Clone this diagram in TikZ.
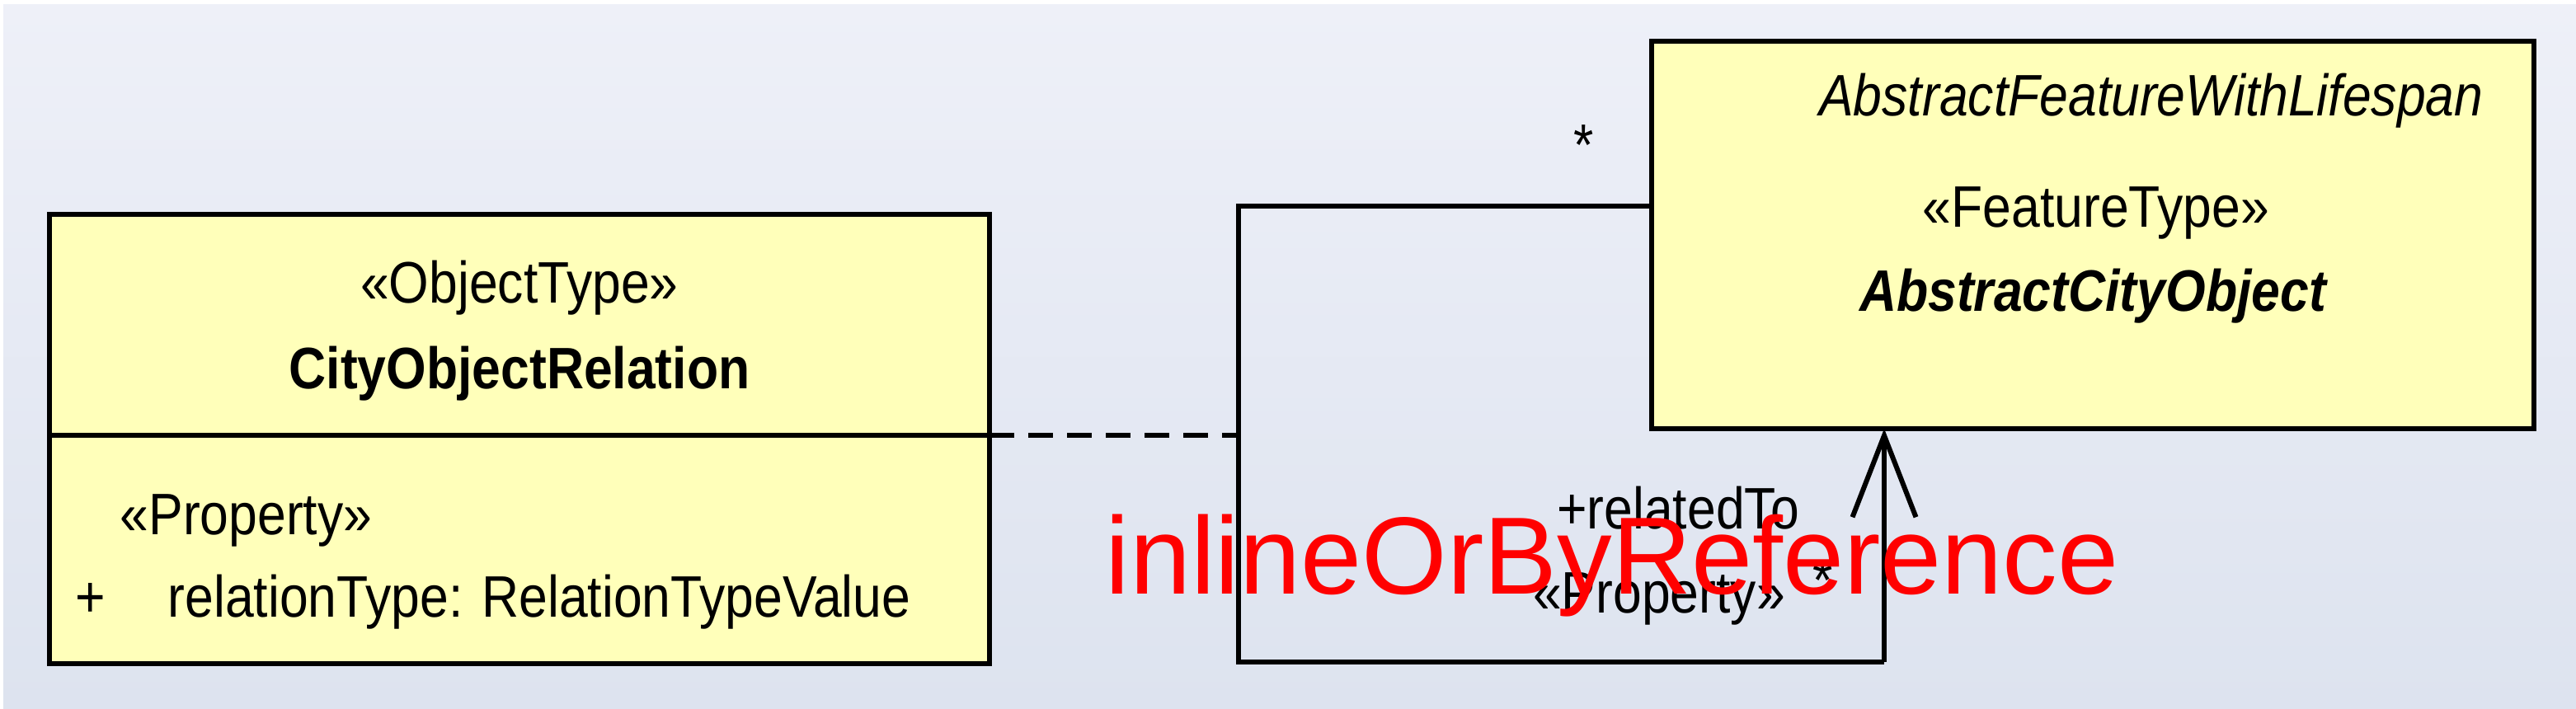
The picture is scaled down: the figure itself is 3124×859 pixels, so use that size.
\documentclass[tikz,border=0pt]{standalone}
\usepackage{fontspec}
\setmainfont{Liberation Sans}
\newfontfamily\umlfont[FakeStretch=0.88]{Liberation Sans}
\usetikzlibrary{arrows.meta}
\definecolor{bgtop}{HTML}{EEF0F8}
\definecolor{bgbot}{HTML}{DDE3EF}
\definecolor{umlyellow}{HTML}{FFFFBA}
\definecolor{redlabel}{HTML}{FF0000}
\begin{document}
\begin{tikzpicture}[x=0.1mm,y=-0.1mm,
  umlbox/.style={draw=black,fill=umlyellow,line width=0.6mm,inner sep=0pt,outer sep=0pt},
  umltext/.style={font=\umlfont\fontsize{20.2}{24}\selectfont,inner sep=0pt,text=black},
  conn/.style={draw=black,line width=0.6mm},
  redtext/.style={font=\fontsize{37.9}{42}\selectfont,text=redlabel,inner sep=0pt}]
\useasboundingbox (0,0) rectangle (3124,859);
\fill[white] (0,0) rectangle (3124,859);
\shade[top color=bgtop,bottom color=bgbot] (4,5) rectangle (3124,859);
% classes
\node[umlbox,minimum width=114mm,minimum height=54.5mm] (cor) at (630,532) {};
\node[umlbox,minimum width=107mm,minimum height=47mm] (aco) at (2538,285) {};
\draw[line width=0.6mm] (cor.west |- 0,528) coordinate (divL) -- (cor.east |- 0,528) coordinate (divR);
% texts of CityObjectRelation
\node[umltext,anchor=base] (corst) at (630,367) {«ObjectType»};
\node[umltext,anchor=base] (corname) at (630,471) {\bfseries CityObjectRelation};
\node[umltext,anchor=base west] (corpst) at (145,648) {«Property»};
\node[umltext,anchor=base west] (corplus) at (91,748) {+};
\node[umltext,anchor=base west] (corattr) at (203,748) {relationType: RelationTypeValue};
% texts of AbstractCityObject
\node[umltext,anchor=base east] (acoparent) at (3012,140) {\itshape AbstractFeatureWithLifespan};
\node[umltext,anchor=base] (acost) at (2542,275) {«FeatureType»};
\node[umltext,anchor=base] (aconame) at (2538,377) {\bfseries\itshape AbstractCityObject};
% association
\coordinate (tl) at (1502,250);
\coordinate (bl) at (1502,803);
\coordinate (br) at (2285,803);
\coordinate (dashEnd) at (1502,528);
\draw[conn,line join=miter] (aco.west |- tl) -- (tl) -- (bl) -- (br);
\draw[conn,-{Straight Barb[length=9.9mm,width=7.7mm]}] (br) -- (br |- aco.south);
\draw[conn,dash pattern=on 3mm off 1.7mm] (divR) -- (dashEnd);
% labels
\node[umltext,anchor=base] (star1) at (1921,200) {*};
\node[umltext,anchor=base] (relto) at (2035,641) {+relatedTo};
\node[umltext,anchor=base] (propst) at (2012,743) {«Property»};
\node[umltext,anchor=base] (star2) at (2211,728) {*};
\node[redtext,anchor=base west] (red) at (1340,720) {inlineOrByReference};
\end{tikzpicture}
\end{document}
